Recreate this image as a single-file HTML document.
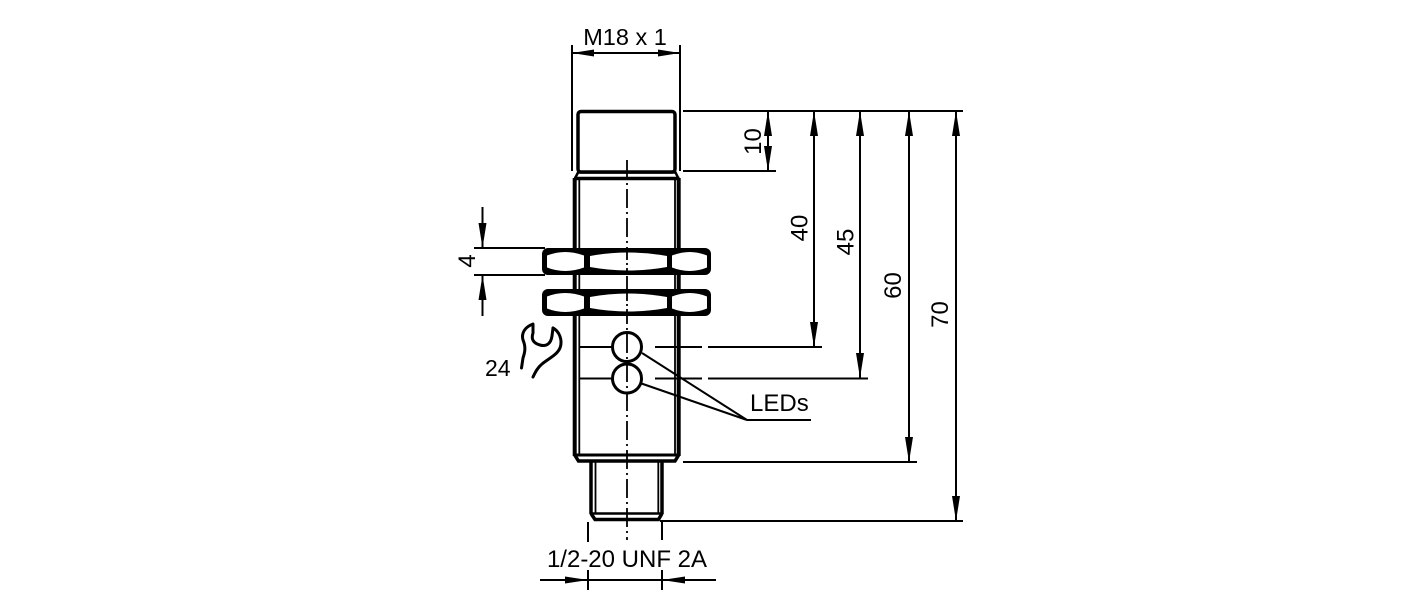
<!DOCTYPE html>
<html><head><meta charset="utf-8"><style>
html,body{margin:0;padding:0;background:#fff;}
svg{display:block;}
text{font-family:"Liberation Sans",Arial,sans-serif;fill:#000;}
</style></head><body>
<svg width="1417" height="602" viewBox="0 0 1417 602" xmlns="http://www.w3.org/2000/svg">
<rect width="1417" height="602" fill="#fff"/>

<!-- centerline -->
<line x1="627" y1="160" x2="627" y2="540" stroke="#000" stroke-width="1.8" stroke-dasharray="19 4 2 4"/>

<!-- cap -->
<rect x="578" y="111.5" width="97" height="60.5" rx="3" fill="none" stroke="#000" stroke-width="3.5"/>

<!-- body -->
<g stroke="#000" fill="none">
  <line x1="574.7" y1="178" x2="574.7" y2="456" stroke-width="4"/>
  <line x1="678.7" y1="178" x2="678.7" y2="456" stroke-width="4"/>
  <line x1="579.3" y1="179" x2="579.3" y2="455" stroke-width="1.8"/>
  <line x1="675" y1="179" x2="675" y2="455" stroke-width="1.8"/>
  <polyline points="574.7,179 578,172.5 675.5,172.5 678.7,179" stroke-width="2.5"/>
  <line x1="574" y1="178.5" x2="679.5" y2="178.5" stroke-width="3.5"/>
  <line x1="574" y1="455" x2="679.5" y2="455" stroke-width="3"/>
  <polyline points="574.7,455 578.5,461 675,461 678.7,455" stroke-width="3.5"/>
  <line x1="591" y1="462" x2="591" y2="514" stroke-width="3.5"/>
  <line x1="662" y1="462" x2="662" y2="514" stroke-width="3.5"/>
  <line x1="595.5" y1="462" x2="595.5" y2="513" stroke-width="1.8"/>
  <line x1="658.3" y1="462" x2="658.3" y2="513" stroke-width="1.8"/>
  <line x1="590" y1="513.5" x2="663" y2="513.5" stroke-width="2.5"/>
  <polyline points="591,513.5 595,519.5 658.5,519.5 662,513.5" stroke-width="3.5"/>
</g>

<!-- nuts -->
<g>
  <rect x="542" y="248" width="169" height="27" rx="6" fill="#000"/>
  <path d="M547,255.5 Q565,248.5 584,255.5 L584,267.5 Q565,274.5 547,267.5 Z" fill="#fff"/>
  <path d="M590,256 Q628,249 667,256 L667,267 Q628,274 590,267 Z" fill="#fff"/>
  <path d="M672,255.5 Q690,248.5 707,255.5 L707,267.5 Q690,274.5 672,267.5 Z" fill="#fff"/>
</g>
<g transform="translate(0,41)">
  <rect x="542" y="248" width="169" height="27" rx="6" fill="#000"/>
  <path d="M547,255.5 Q565,248.5 584,255.5 L584,267.5 Q565,274.5 547,267.5 Z" fill="#fff"/>
  <path d="M590,256 Q628,249 667,256 L667,267 Q628,274 590,267 Z" fill="#fff"/>
  <path d="M672,255.5 Q690,248.5 707,255.5 L707,267.5 Q690,274.5 672,267.5 Z" fill="#fff"/>
</g>
<line x1="627" y1="252" x2="627" y2="272" stroke="#000" stroke-width="1.8" stroke-dasharray="8 3 2 3"/>
<line x1="627" y1="293" x2="627" y2="313" stroke="#000" stroke-width="1.8" stroke-dasharray="8 3 2 3"/>

<!-- LED lines -->
<g stroke="#000" stroke-width="2" fill="none">
  <line x1="580" y1="347" x2="612" y2="347"/>
  <line x1="655" y1="347" x2="702" y2="347"/>
  <line x1="708" y1="347" x2="822" y2="347"/>
  <line x1="580" y1="378.5" x2="612" y2="378.5"/>
  <line x1="655" y1="378.5" x2="702" y2="378.5"/>
  <line x1="708" y1="378.5" x2="868" y2="378.5"/>
  <line x1="642" y1="353" x2="747" y2="420"/>
  <line x1="640" y1="383" x2="747" y2="420"/>
  <line x1="747" y1="420" x2="811" y2="420"/>
</g>
<circle cx="627" cy="347" r="14.5" fill="none" stroke="#000" stroke-width="3"/>
<circle cx="627" cy="378.5" r="14.5" fill="none" stroke="#000" stroke-width="3"/>
<text x="750" y="411" font-size="24">LEDs</text>

<!-- M18 dimension -->
<g stroke="#000" stroke-width="2">
  <line x1="572" y1="45" x2="572" y2="171"/>
  <line x1="680" y1="45" x2="680" y2="171"/>
  <line x1="572" y1="53" x2="680" y2="53"/>
</g>
<polygon points="572,53 594,49.5 594,56.5" fill="#000"/>
<polygon points="680,53 658,49.5 658,56.5" fill="#000"/>
<text x="625" y="45" font-size="23.5" text-anchor="middle">M18 x 1</text>

<!-- right dimensions -->
<g stroke="#000" stroke-width="2">
  <line x1="683" y1="111" x2="963" y2="111"/>
  <line x1="683" y1="171" x2="776" y2="171"/>
  <line x1="683" y1="462" x2="917" y2="462"/>
  <line x1="660" y1="521" x2="963" y2="521"/>
  <line x1="768" y1="111" x2="768" y2="171"/>
  <line x1="814" y1="111" x2="814" y2="347"/>
  <line x1="860" y1="111" x2="860" y2="378"/>
  <line x1="909" y1="111" x2="909" y2="462"/>
  <line x1="956" y1="111" x2="956" y2="521"/>
</g>
<g fill="#000">
  <polygon points="768,111 764,136 772,136"/>
  <polygon points="768,171 764,146 772,146"/>
  <polygon points="814,111 810,136 818,136"/>
  <polygon points="814,347 810,322 818,322"/>
  <polygon points="860,111 856,136 864,136"/>
  <polygon points="860,378 856,353 864,353"/>
  <polygon points="909,111 905,136 913,136"/>
  <polygon points="909,462 905,437 913,437"/>
  <polygon points="956,111 952,136 960,136"/>
  <polygon points="956,521 952,496 960,496"/>
</g>
<g font-size="24" text-anchor="middle">
  <text transform="translate(752.5,141.5) rotate(-90)" x="0" y="8.5">10</text>
  <text transform="translate(799,228) rotate(-90)" x="0" y="8.5">40</text>
  <text transform="translate(845,242) rotate(-90)" x="0" y="8.5">45</text>
  <text transform="translate(892.5,285.5) rotate(-90)" x="0" y="8.5">60</text>
  <text transform="translate(939.5,314.5) rotate(-90)" x="0" y="8.5">70</text>
  <text transform="translate(466.5,261) rotate(-90)" x="0" y="8.5">4</text>
</g>

<!-- 4 dimension -->
<g stroke="#000" stroke-width="2">
  <line x1="474" y1="248" x2="545" y2="248"/>
  <line x1="474" y1="275" x2="545" y2="275"/>
  <line x1="482.5" y1="207" x2="482.5" y2="248"/>
  <line x1="482.5" y1="275" x2="482.5" y2="316"/>
</g>
<polygon points="482.5,248 478.5,223 486.5,223" fill="#000"/>
<polygon points="482.5,275 478.5,300 486.5,300" fill="#000"/>

<!-- wrench -->
<g stroke="#000" stroke-width="3" fill="none" stroke-linecap="round">
  <path d="M533,324 C525,327 521,333 523,340 C526,347 525,352 523,358 L521.5,368"/>
  <path d="M533,325 L533,333 C531,339 533,343 540,345 C547,347 551,343 552,336 L553,328"/>
  <path d="M553,328 C559,331 563,340 560,348 C557,355 548,359 542,364 C537,368 535,373 533,377"/>
</g>
<text x="485" y="376" font-size="23">24</text>

<!-- bottom dimension -->
<g stroke="#000" stroke-width="2">
  <line x1="588" y1="522" x2="588" y2="542"/>
  <line x1="588" y1="570" x2="588" y2="590"/>
  <line x1="662" y1="522" x2="662" y2="540"/>
  <line x1="662" y1="570" x2="662" y2="590"/>
  <line x1="540" y1="580" x2="716" y2="580"/>
</g>
<polygon points="588,580 565,576.5 565,583.5" fill="#000"/>
<polygon points="662,580 685,576.5 685,583.5" fill="#000"/>
<text x="627" y="567" font-size="24" text-anchor="middle">1/2-20 UNF 2A</text>
</svg>
</body></html>
